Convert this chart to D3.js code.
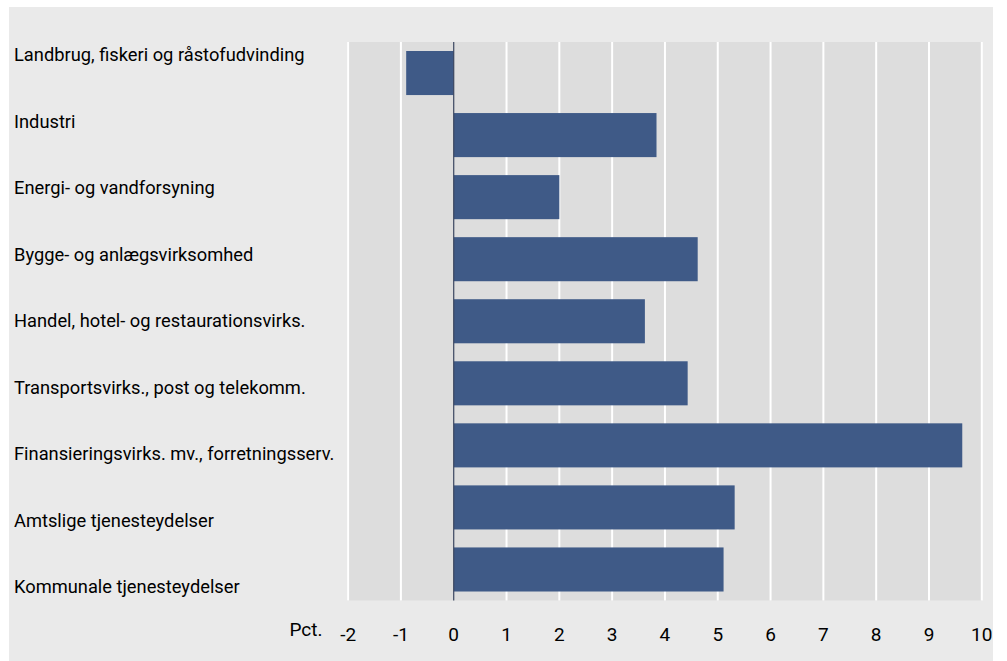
<!DOCTYPE html>
<html><head><meta charset="utf-8">
<script src="https://cdn.jsdelivr.net/npm/d3@7"></script>
<style>body{margin:0;background:#fff;} text{font-family:Roboto, "Noto Sans", sans-serif;}</style>
</head><body>
<svg id="c" width="1007" height="661"></svg>
<script>
const categories = ["Landbrug, fiskeri og råstofudvinding","Industri","Energi- og vandforsyning","Bygge- og anlægsvirksomhed","Handel, hotel- og restaurationsvirks.","Transportsvirks., post og telekomm.","Finansieringsvirks. mv., forretningsserv.","Amtslige tjenesteydelser","Kommunale tjenesteydelser"];
const values = [-0.9, 3.84, 2.0, 4.62, 3.62, 4.43, 9.63, 5.32, 5.11];
const ticks = [-2,-1,0,1,2,3,4,5,6,7,8,9,10];
const axisTitle = "Pct.";

const svg = d3.select("#c");
svg.append("rect").attr("x",9).attr("y",7).attr("width",984).attr("height",654).attr("fill","#eaeaea");
const L=347, R=982, T=42, B=600.5;
const x = d3.scaleLinear().domain([-2,10]).range([348.1, 981.8]);
const y = d3.scaleBand().domain(categories).range([T,B]).paddingInner(0.29).paddingOuter(0.145);
const yl = d3.scalePoint().domain(categories).range([55,587]);

svg.append("rect").attr("x",L).attr("y",T).attr("width",R-L).attr("height",B-T).attr("fill","#dddddd");
svg.append("g").selectAll("line").data(ticks).join("line")
  .attr("x1",d=>x(d)).attr("x2",d=>x(d)).attr("y1",T).attr("y2",B)
  .attr("stroke",d=>d===0?"none":"#ffffff").attr("stroke-width",2);
svg.append("g").selectAll("rect").data(values).join("rect")
  .attr("x",(d)=>x(Math.min(0,d))).attr("width",d=>Math.abs(x(d)-x(0)))
  .attr("y",(d,i)=>y(categories[i])).attr("height",y.bandwidth()).attr("fill","#3f5a87");
svg.append("line").attr("x1",x(0)).attr("x2",x(0)).attr("y1",T).attr("y2",B).attr("stroke","#3b4660").attr("stroke-width",1.2);

svg.append("g").selectAll("text").data(categories).join("text")
  .attr("x",14).attr("y",d=>yl(d)).attr("dy","0.35em").attr("font-size",18.3).attr("fill","#000").text(d=>d);
svg.append("g").selectAll("text").data(ticks).join("text")
  .attr("x",d=>x(d)).attr("y",641).attr("text-anchor","middle").attr("font-size",19).attr("fill","#000").text(d=>d);
svg.append("text").attr("x",306).attr("y",636).attr("text-anchor","middle").attr("font-size",19).attr("fill","#000").text(axisTitle);
</script></body></html>
